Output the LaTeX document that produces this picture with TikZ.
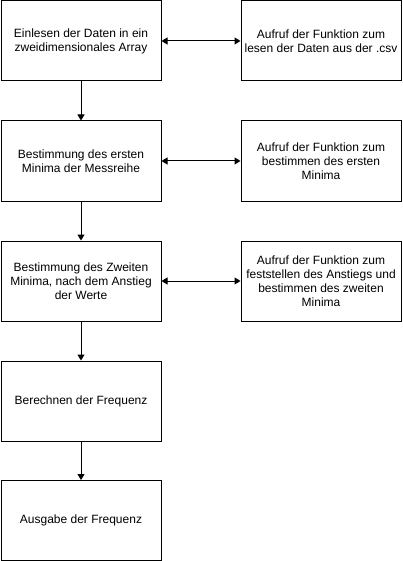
\documentclass[tikz,border=0pt]{standalone}
\usepackage{fontspec}
\setmainfont{Liberation Sans}
\usetikzlibrary{arrows.meta}
\begin{document}
\begin{tikzpicture}[x=1pt,y=-1pt,
  box/.style={draw=black,line width=1pt,minimum width=160pt,minimum height=80pt,inner sep=2pt,align=center,anchor=north west,font=\fontsize{12}{14}\selectfont},
  conn/.style={line width=1pt,-{Triangle[length=6pt,width=7pt]}},
  biconn/.style={line width=1pt,{Triangle[length=6pt,width=7pt]}-{Triangle[length=6pt,width=7pt]}}]
\useasboundingbox (0,0) rectangle (402,561);
\node[box] (a1) at (0.5,0.5) {Einlesen der Daten in ein\\zweidimensionales Array};
\node[box] (a2) at (0.5,120.5) {Bestimmung des ersten\\Minima der Messreihe};
\node[box] (a3) at (0.5,240.5) {Bestimmung des Zweiten\\Minima, nach dem Anstieg\\der Werte};
\node[box] (a4) at (0.5,360.5) {Berechnen der Frequenz};
\node[box] (a5) at (0.5,480) {Ausgabe der Frequenz};
\node[box] (b1) at (240.5,0.5) {Aufruf der Funktion zum\\lesen der Daten aus der .csv};
\node[box] (b2) at (240.5,120.5) {Aufruf der Funktion zum\\bestimmen des ersten\\Minima};
\node[box] (b3) at (240.5,240.5) {Aufruf der Funktion zum\\feststellen des Anstiegs und\\bestimmen des zweiten\\Minima};
\draw[conn] (a1) -- (a2);
\draw[conn] (a2) -- (a3);
\draw[conn] (a3) -- (a4);
\draw[conn] (a4) -- (a5);
\draw[biconn] (a1) -- (b1);
\draw[biconn] (a2) -- (b2);
\draw[biconn] (a3) -- (b3);
\end{tikzpicture}
\end{document}
